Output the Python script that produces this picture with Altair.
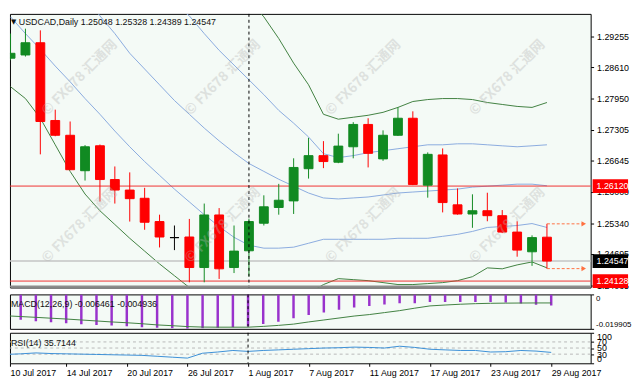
import altair as alt
import pandas as pd

# ---------------- data ----------------
SYMBOL = "USDCAD,Daily"
DATE_LABELS = ["10 Jul 2017", "14 Jul 2017", "20 Jul 2017", "26 Jul 2017", "1 Aug 2017",
               "7 Aug 2017", "11 Aug 2017", "17 Aug 2017", "23 Aug 2017", "29 Aug 2017"]
LABEL_STEP = 4
MONTH_START = 16  # 1 Aug 2017

OPEN = [1.28801, 1.28869, 1.29125, 1.27495, 1.27185, 1.26442, 1.26965, 1.26257, 1.26036, 1.25864,
        1.25376, 1.25040, 1.25052, 1.24412, 1.25514, 1.24412, 1.24763, 1.25341, 1.25671, 1.25809,
        1.26484, 1.26758, 1.26620, 1.26944, 1.27412, 1.26690, 1.27185, 1.27542, 1.26139, 1.26773,
        1.25726, 1.25534, 1.25603, 1.25499, 1.25155, 1.24742, 1.25048]
HIGH = [1.29317, 1.29420, 1.29385, 1.27722, 1.27474, 1.26979, 1.26991, 1.26531, 1.26407, 1.26083,
        1.25520, 1.25293, 1.25431, 1.25753, 1.25658, 1.25293, 1.25437, 1.25926, 1.26166, 1.26702,
        1.27130, 1.27062, 1.27218, 1.27460, 1.27542, 1.27288, 1.27769, 1.27687, 1.26826, 1.26909,
        1.26071, 1.25947, 1.25980, 1.25617, 1.25382, 1.25087, 1.25328]
LOW = [1.28760, 1.28836, 1.26785, 1.27165, 1.26455, 1.26236, 1.25795, 1.25753, 1.25376, 1.25204,
       1.24833, 1.24777, 1.24102, 1.24102, 1.24173, 1.24296, 1.24227, 1.25293, 1.25520, 1.25535,
       1.26277, 1.26496, 1.26600, 1.26702, 1.26511, 1.26649, 1.27171, 1.26140, 1.25877, 1.25568,
       1.25520, 1.25245, 1.25382, 1.25134, 1.24639, 1.24447, 1.24389]
CLOSE = [1.28904, 1.29125, 1.27474, 1.27185, 1.26463, 1.26944, 1.26257, 1.26036, 1.25856, 1.25361,
         1.25052, 1.25038, 1.24412, 1.25514, 1.24385, 1.24756, 1.25376, 1.25685, 1.25823, 1.26510,
         1.26758, 1.26634, 1.26958, 1.27412, 1.26806, 1.27185, 1.27542, 1.26154, 1.26785, 1.25774,
         1.25534, 1.25603, 1.25499, 1.25155, 1.24777, 1.25039, 1.24547]

N = None
BB_MID = [N, N, N, N, N, 1.30101, 1.29688, 1.29317, 1.28904, 1.28574,
          1.28244, 1.27914, 1.27625, 1.27336, 1.27068, 1.26820, 1.26593, 1.26428, 1.26263, 1.26118,
          1.25974, 1.25871, 1.25850, 1.25871, 1.25891, 1.25933, 1.25974, 1.25995, 1.26015, 1.26036,
          1.26056, 1.26098, 1.26118, 1.26139, 1.26160, 1.26160, 1.26126]
BB_UP1 = [N, N, N, N, N, N, N, N, N, N,
          1.30266, 1.29936, 1.29688, 1.29317, 1.28966, 1.28657, 1.28347, 1.28037, 1.27707, 1.27439,
          1.27150, 1.26799, 1.26717, 1.26758, 1.26820, 1.26861, 1.26903, 1.26944, 1.26985, 1.26985,
          1.27006, 1.27006, 1.26985, 1.26964, 1.26944, 1.26964, 1.26985]
BB_LO1 = [1.29668, 1.29317, 1.28987, 1.28636, 1.28306, 1.27955, 1.27625, 1.27274, 1.26944, 1.26634,
          1.26345, 1.26056, 1.25788, 1.25520, 1.25272, 1.25045, 1.24880, 1.24818, 1.24818, 1.24839,
          1.24921, 1.25004, 1.25004, 1.25004, 1.25004, 1.25004, 1.25025, 1.25025, 1.25025, 1.25066,
          1.25107, 1.25169, 1.25252, 1.25272, 1.25293, 1.25334, 1.25252]
BB_UP2 = [N, N, N, N, N, N, N, N, N, N,
          N, N, N, N, N, 1.30369, 1.30019, 1.29668, 1.29214, 1.28698,
          1.28244, 1.27625, 1.27522, 1.27563, 1.27604, 1.27666, 1.27769, 1.27893, 1.27934, 1.27955,
          1.27955, 1.27934, 1.27872, 1.27831, 1.27790, 1.27769, 1.27872]
BB_LO2 = [1.28203, 1.27955, 1.27542, 1.26985, 1.26428, 1.25953, 1.25602, 1.25314, 1.25025, 1.24756,
          1.24488, 1.24240, 1.23993, 1.23704, 1.23477, 1.23271, 1.23167, 1.23209, 1.23374, 1.23559,
          1.23869, 1.24055, 1.24179, 1.24158, 1.24137, 1.24096, 1.24055, 1.24055, 1.24075, 1.24096,
          1.24137, 1.24220, 1.24405, 1.24385, 1.24467, 1.24529, 1.24405]

MACD = [-0.01325, -0.01462, -0.01553, -0.01609, -0.01666, -0.01723, -0.01763, -0.01803, -0.01837, -0.01894,
        -0.01934, -0.01951, -0.01990, -0.01951, -0.01934, -0.01894, -0.01837, -0.01706, -0.01575, -0.01382,
        -0.01194, -0.01041, -0.00893, -0.00756, -0.00665, -0.00586, -0.00512, -0.00512, -0.00438, -0.00438,
        -0.00438, -0.00438, -0.00438, -0.00472, -0.00520, -0.00600, -0.006461]
SIGNAL = [-0.01234, -0.01280, -0.01325, -0.01376, -0.01422, -0.01479, -0.01535, -0.01592, -0.01638, -0.01695,
          -0.01763, -0.01808, -0.01860, -0.01888, -0.01894, -0.01894, -0.01894, -0.01848, -0.01791, -0.01717,
          -0.01592, -0.01479, -0.01365, -0.01251, -0.01166, -0.01052, -0.00938, -0.00796, -0.00665, -0.00614,
          -0.00569, -0.00535, -0.00515, -0.00505, -0.00498, -0.00494, -0.004936]
MACD_MIN = -0.019905

RSI = [29, 31, 34, 32, 31, 30, 29, 28, 27, 26,
       23, 20, 17, 33, 37, 42, 39, 42, 44, 46,
       48, 50, 51, 53, 52, 50, 56, 52, 46, 44,
       42, 42, 37, 38, 42, 40, 35.7144]
RSI_LEVELS = [70, 50, 30]
RSI_TICKS = [100, 70, 50, 30, 0]

PRICE_TICKS = [1.29255, 1.28610, 1.27950, 1.27305, 1.26645, 1.26000, 1.25340, 1.24695, 1.24035]
PRICE_DOMAIN = [1.23993, 1.29730]
LEVELS = [1.26120, 1.24128]
BID = CLOSE[-1]
WATERMARK = "© FX678 汇通网"
WM_IDX = [4.64, 14.25, 23.67, 33.34]
WM_PRICE = [1.28388, 1.25293]

# ---------------- layout / style ----------------
FONT = "Liberation Sans"
W = 590
X_DOMAIN = [0.292, 38.604]
BG = "#f4faf6"
UP, DOWN, DOJI = "#118a22", "#ff0000", "#000000"
BLUE, GREEN = "#8aaade", "#3f7f3f"

n = len(CLOSE)
idx = list(range(n))


def xq(field="i"):
    return alt.X(f"{field}:Q", scale=alt.Scale(domain=X_DOMAIN, nice=False, zero=False), axis=None)


price_axis = alt.Axis(orient="right", values=PRICE_TICKS, format=".5f", tickSize=3, labelPadding=3,
                      title=None, grid=False, domain=False, labelOverlap=False, labelFlush=False)
price_scale = alt.Scale(domain=PRICE_DOMAIN, nice=False, zero=False)


def ym(field):
    return alt.Y(f"{field}:Q", scale=price_scale, axis=price_axis)


candles = pd.DataFrame({"i": idx, "open": OPEN, "high": HIGH, "low": LOW, "close": CLOSE})
candles["dir"] = ["doji" if abs(c - o) < 0.00005 else ("up" if c > o else "down")
                  for o, c in zip(OPEN, CLOSE)]
cscale = alt.Scale(domain=["up", "down", "doji"], range=[UP, DOWN, DOJI])

bands = []
for name, arr in [("mid", BB_MID), ("up1", BB_UP1), ("lo1", BB_LO1), ("up2", BB_UP2), ("lo2", BB_LO2)]:
    for i, v in enumerate(arr):
        if v is not None:
            bands.append({"i": i, "p": v, "band": name})
bands = pd.DataFrame(bands)

blue_lines = alt.Chart(bands[bands.band.isin(["mid", "up1", "lo1"])]).mark_line(
    clip=True, strokeWidth=1, color=BLUE).encode(x=xq(), y=ym("p"), detail="band:N")
green_lines = alt.Chart(bands[bands.band.isin(["up2", "lo2"])]).mark_line(
    clip=True, strokeWidth=1, color=GREEN).encode(x=xq(), y=ym("p"), detail="band:N")

levels = alt.Chart(pd.DataFrame({"p": LEVELS})).mark_rule(color="#f03030", strokeWidth=1).encode(y=ym("p"))
bid = alt.Chart(pd.DataFrame({"p": [BID]})).mark_rule(color="#c4c4c4", strokeWidth=1.5).encode(y=ym("p"))

wicks = alt.Chart(candles).mark_rule(clip=True, strokeWidth=1).encode(
    x=xq(), y=ym("low"), y2="high:Q", color=alt.Color("dir:N", scale=cscale, legend=None))
bodies = alt.Chart(candles).mark_bar(clip=True, size=9, strokeWidth=1).encode(
    x=xq(), y=ym("open"), y2="close:Q",
    color=alt.Color("dir:N", scale=cscale, legend=None),
    stroke=alt.Stroke("dir:N", scale=cscale, legend=None))

arrow_df = pd.DataFrame({"p": [HIGH[-1], LOW[-1]], "i0": [n - 1, n - 1], "i1": [38.47, 38.47]})
arrow_rule = alt.Chart(arrow_df).mark_rule(color="#ff7040", strokeDash=[3, 2], strokeWidth=1).encode(
    x=xq("i0"), x2="i1:Q", y=ym("p"))
arrow_tri = alt.Chart(arrow_df).mark_point(shape="triangle-right", filled=True, size=28,
                                           color="#ff7040", opacity=1).encode(x=xq("i1"), y=ym("p"))

sep_df = pd.DataFrame({"i": [MONTH_START]})
vsep_main = alt.Chart(sep_df).mark_rule(color="#000", strokeDash=[3, 3], strokeWidth=1).encode(x=xq())

wm = pd.DataFrame([{"i": a, "p": b, "t": WATERMARK} for b in WM_PRICE for a in WM_IDX])
watermark = alt.Chart(wm).mark_text(font="Noto Sans CJK SC", fontSize=14, fontWeight="bold", angle=315,
                                    color="#b4b4b4", opacity=0.35, clip=True).encode(
    x=xq(), y=ym("p"), text="t:N")

title_txt = f"{SYMBOL}  {OPEN[-1]:.5f} {HIGH[-1]:.5f} {LOW[-1]:.5f} {CLOSE[-1]:.5f}"
one = pd.DataFrame({"t": [title_txt], "a": ["▼"]})
title = alt.Chart(one).mark_text(align="left", baseline="middle", font=FONT, fontSize=9, color="#111").encode(
    x=alt.value(9), y=alt.value(8), text="t:N")
arrow_glyph = alt.Chart(one).mark_text(align="left", baseline="middle", font="DejaVu Sans", fontSize=7,
                                       color="#111").encode(x=alt.value(1), y=alt.value(8), text="a:N")

tags = pd.DataFrame({"p": [LEVELS[0], BID, LEVELS[1]], "kind": ["red", "black", "red"]})
tags["label"] = [f"{v:.5f}" for v in tags.p]
tag_box = alt.Chart(tags).mark_point(shape="M-1,-0.39L1,-0.39L1,0.39L-1,0.39Z", size=1296, filled=True,
                                     opacity=1, strokeWidth=0, clip=False).encode(
    x=alt.value(610), y=ym("p"),
    fill=alt.Fill("kind:N", scale=alt.Scale(domain=["red", "black"], range=["#ff0000", "#000000"]), legend=None))
tag_text = alt.Chart(tags).mark_text(align="left", baseline="middle", font=FONT, fontSize=9, color="white",
                                     clip=False).encode(x=alt.value(596), y=ym("p"), text="label:N")

band_sep = alt.Chart(one).mark_rule(color="#8c8c8c", strokeWidth=2).encode(
    x=alt.value(0), x2=alt.value(W), y=alt.value(277))

main = alt.layer(blue_lines, green_lines, levels, bid, wicks, bodies, arrow_rule, arrow_tri, vsep_main,
                 watermark, title, arrow_glyph, tag_box, tag_text, band_sep).properties(width=W, height=278)

# ---------------- MACD ----------------
mdf = pd.DataFrame({"i": idx, "macd": MACD, "signal": SIGNAL, "zero": [0.0] * n})
macd_axis = alt.Axis(orient="right", values=[0, MACD_MIN],
                     labelExpr=f"datum.value == 0 ? '0' : '{MACD_MIN:.6f}'",
                     tickSize=3, labelPadding=2, labelFontSize=8, title=None, grid=False, domain=False,
                     labelFlush=True, labelOverlap=False)
mscale = alt.Scale(domain=[MACD_MIN, 0], nice=False, zero=False)
macd_bars = alt.Chart(mdf).mark_rule(color="#9932cc", strokeWidth=2.5, clip=True).encode(
    x=xq(), y=alt.Y("macd:Q", scale=mscale, axis=macd_axis), y2="zero:Q")
macd_sig = alt.Chart(mdf).mark_line(color=GREEN, strokeWidth=1, clip=True).encode(
    x=xq(), y=alt.Y("signal:Q", scale=mscale, axis=macd_axis))
vsep_macd = alt.Chart(sep_df).mark_rule(color="#000", strokeDash=[3, 3], strokeWidth=1).encode(x=xq())
mlabel = alt.Chart(pd.DataFrame({"t": [f"MACD(12,26,9) {MACD[-1]:.6f} {SIGNAL[-1]:.6f}"]})).mark_text(
    align="left", baseline="middle", font=FONT, fontSize=9, color="#111").encode(
    x=alt.value(1), y=alt.value(10), text="t:N")
macd_chart = alt.layer(macd_bars, macd_sig, vsep_macd, mlabel).properties(width=W, height=35)

# ---------------- RSI ----------------
rdf = pd.DataFrame({"i": idx, "rsi": RSI})
tick_vals = [X_DOMAIN[0]] + list(range(LABEL_STEP, n, LABEL_STEP))
label_expr = "[" + ",".join(f"'{s}'" for s in DATE_LABELS) + f"][round(datum.value/{LABEL_STEP})]"
date_axis = alt.Axis(orient="bottom", values=tick_vals, labelExpr=label_expr,
                     labelAlign="left", labelFlush=False, tickSize=3, labelPadding=2, title=None,
                     grid=False, domain=False, labelOverlap=False)
rscale = alt.Scale(domain=[0, 100], nice=False, zero=False)
rsi_axis = alt.Axis(orient="right", values=RSI_TICKS, tickSize=3, labelPadding=3, title=None, grid=False,
                    domain=False, labelFlush=True, labelOverlap=False)
rx = alt.X("i:Q", scale=alt.Scale(domain=X_DOMAIN, nice=False, zero=False), axis=date_axis)
rsi_levels = alt.Chart(pd.DataFrame({"v": RSI_LEVELS})).mark_rule(
    color="#b8b8b8", strokeDash=[3, 3], strokeWidth=1).encode(y=alt.Y("v:Q", scale=rscale, axis=rsi_axis))
rsi_line = alt.Chart(rdf).mark_line(color="#3a8fd6", strokeWidth=1, clip=True).encode(
    x=rx, y=alt.Y("rsi:Q", scale=rscale, axis=rsi_axis))
vsep_rsi = alt.Chart(sep_df).mark_rule(color="#000", strokeDash=[3, 3], strokeWidth=1).encode(x=rx)
rlabel = alt.Chart(pd.DataFrame({"t": [f"RSI(14) {RSI[-1]:.4f}"]})).mark_text(
    align="left", baseline="middle", font=FONT, fontSize=9, color="#111").encode(
    x=alt.value(1), y=alt.value(10), text="t:N")
rsi_chart = alt.layer(rsi_levels, rsi_line, vsep_rsi, rlabel).properties(width=W, height=31)

chart = alt.vconcat(main, macd_chart, rsi_chart, spacing=2).properties(
    padding={"left": 0, "right": 0, "top": 2, "bottom": 0}, background="white"
).configure_axis(
    labelFont=FONT, labelFontSize=9, labelColor="#000", tickColor="#000"
).configure_view(stroke="#000", strokeWidth=1, fill=BG)

chart.save("out.html", embed_options={"renderer": "svg", "actions": False})
